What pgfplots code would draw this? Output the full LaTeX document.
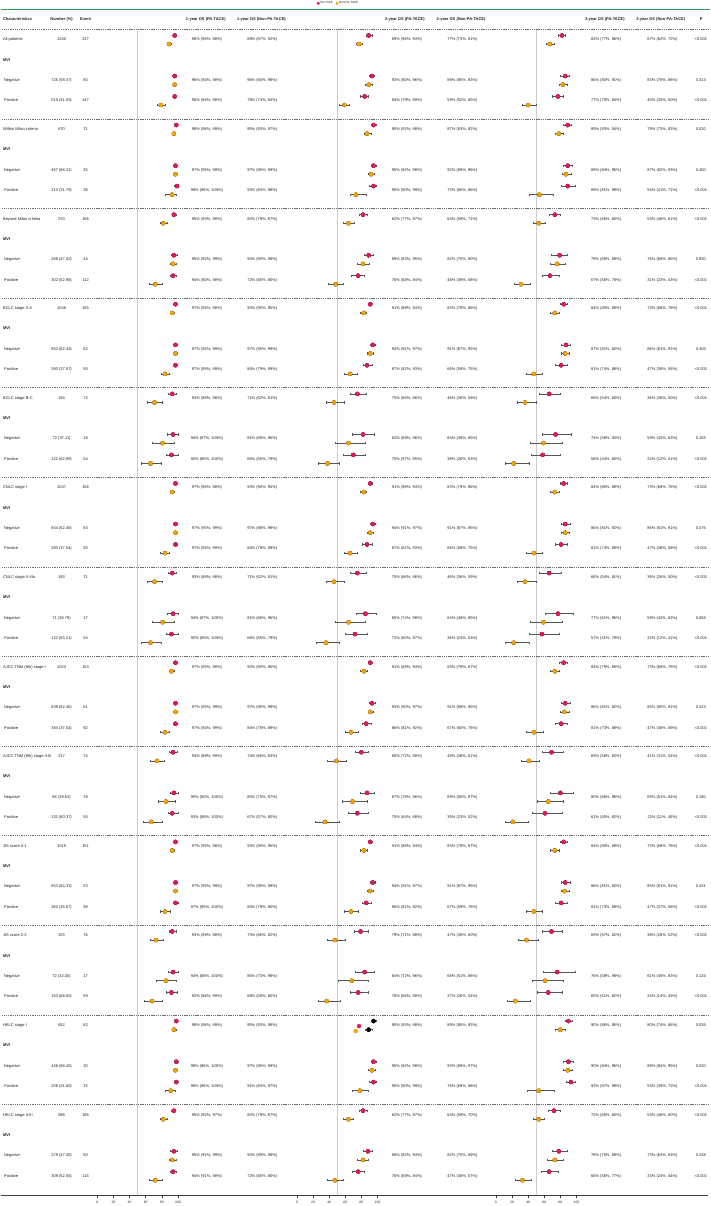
\documentclass[border=0pt]{standalone}
\usepackage{pgfplots}
\pgfplotsset{compat=1.18}
\usepackage{pgfplotstable}
\usepackage{fontspec}
\setmainfont{Liberation Sans}
\definecolor{pared}{RGB}{232,22,90}
\definecolor{nporange}{RGB}{246,164,0}
\definecolor{ebar}{RGB}{85,85,85}
\definecolor{refgray}{RGB}{205,205,205}
\definecolor{topgreen}{RGB}{38,160,90}
\definecolor{txt}{RGB}{30,30,30}
\definecolor{sepc}{RGB}{110,110,110}

\newcommand\ci[3]{#1\%~(#2\%,~#3\%)}
\newcommand\grp[5]{\node[t,anchor=west] at (axis cs:2.3,-#1) {#2};\node[t] at (axis cs:61,-#1) {#3};\node[t] at (axis cs:85,-#1) {#4};\node[t] at (axis cs:700.3,-#1) {#5};}
\newcommand\subrow[5]{\node[t,anchor=west] at (axis cs:3.3,-#1) {#2};\node[t] at (axis cs:61,-#1) {#3};\node[t] at (axis cs:85,-#1) {#4};\node[t] at (axis cs:700.3,-#1) {#5};}
\newcommand\mvi[1]{\node[h,anchor=west] at (axis cs:2.3,-#1) {MVI};}
\newcommand\ost[7]{\node[t] at (axis cs:206.3,-#1) {#2};\node[t] at (axis cs:261.7,-#1) {#3};\node[t] at (axis cs:406.3,-#1) {#4};\node[t] at (axis cs:461.8,-#1) {#5};\node[t] at (axis cs:605.5,-#1) {#6};\node[t] at (axis cs:661.8,-#1) {#7};}
\newcommand\sepl[1]{\draw[sepc, line width=0.5pt, dash pattern=on 1.3pt off 0.9pt] (axis cs:1,-#1) -- (axis cs:708,-#1);}

% y = row position (px from top); PA-TACE, Non-PA-TACE with 95% CI
\pgfplotstableread{
y pa palo pahi np nplo nphi
39.8 96 95 98 89 87 92
80.4 96 94 98 96 94 98
100.8 96 94 98 79 74 84
129.4 98 96 99 95 93 97
170.0 97 95 99 97 95 99
190.4 99 96 100 93 84 98
219.0 95 93 98 82 78 87
259.6 95 92 99 94 90 98
280.0 94 90 98 72 65 80
308.6 97 95 98 93 90 95
349.2 97 95 99 97 95 99
369.6 97 95 99 84 79 89
398.2 93 88 98 71 62 81
438.8 94 87 100 81 68 96
459.2 92 85 100 66 55 79
487.8 97 95 98 93 90 95
528.4 97 95 99 97 96 99
548.8 97 95 99 84 78 89
577.4 93 88 98 71 62 81
618.0 94 87 100 81 68 96
638.4 92 85 100 66 55 79
667.0 97 95 98 92 90 95
707.6 97 95 99 97 95 99
728.0 97 94 99 84 78 89
756.6 94 89 99 74 66 83
797.2 95 90 100 85 75 97
817.6 93 88 100 67 57 80
846.2 97 95 98 93 90 95
886.8 97 95 99 97 95 99
907.2 97 95 100 84 78 90
935.8 93 89 98 73 66 82
976.4 94 88 100 85 73 98
996.8 92 86 99 68 58 80
1025.4 98 96 99 95 93 98
1066.0 98 96 100 97 95 99
1086.4 98 96 100 91 84 97
1115.0 95 92 97 82 78 87
1155.6 95 91 99 93 89 98
1176.0 94 91 98 72 65 80
}\tabA

\pgfplotstableread{
y pa palo pahi np nplo nphi
39.8 89 86 93 77 73 81
80.4 93 90 96 89 85 93
100.8 84 79 89 59 52 65
129.4 95 92 98 87 83 92
170.0 95 92 98 92 89 96
190.4 95 90 99 73 66 86
219.0 82 77 87 64 58 71
259.6 89 83 95 82 75 90
280.0 76 68 84 48 39 58
308.6 91 89 94 83 79 86
349.2 94 91 97 91 87 95
369.6 87 82 93 66 59 75
398.2 75 66 86 46 36 59
438.8 82 69 96 64 48 85
459.2 70 57 85 38 26 53
487.8 91 88 94 83 79 86
528.4 94 91 97 91 87 95
548.8 87 81 93 66 59 75
577.4 75 66 86 46 36 59
618.0 85 74 98 64 48 85
638.4 72 60 87 36 24 53
667.0 91 88 94 83 79 87
707.6 93 90 97 91 88 95
728.0 86 81 92 67 60 76
756.6 80 72 88 49 38 61
797.2 87 78 96 69 56 87
817.6 75 64 88 35 23 52
846.2 91 88 94 83 79 87
886.8 94 91 97 91 87 95
907.2 86 81 92 67 59 76
935.8 79 71 88 47 38 60
976.4 84 72 96 68 51 88
996.8 76 66 88 37 26 54
1066.0 95 92 98 93 89 97
1086.4 95 90 99 78 69 88
1115.0 82 77 87 64 58 70
1155.6 88 82 94 82 75 89
1176.0 76 69 84 47 38 57
}\tabB

% HKLC stage I, 2-year row as drawn in the reference
\pgfplotstableread{
y pa palo pahi np nplo nphi
1025.4 95 93 98 89 85 93
}\tabBk

\pgfplotstableread{
y pa palo pahi np nplo nphi
39.8 82 77 86 67 62 72
80.4 86 80 91 83 78 88
100.8 77 70 84 40 33 50
129.4 89 83 94 78 73 83
170.0 89 84 95 87 82 93
190.4 89 81 99 54 41 71
219.0 73 66 80 53 46 61
259.6 79 69 89 76 68 86
280.0 67 58 78 31 23 43
308.6 84 80 89 73 68 78
349.2 87 81 92 86 81 91
369.6 81 74 88 47 38 58
398.2 66 54 80 36 26 50
438.8 74 58 93 59 42 82
459.2 58 44 80 22 12 41
487.8 84 80 89 73 68 78
528.4 86 81 92 86 81 91
548.8 81 74 89 47 38 58
577.4 66 54 81 36 26 50
618.0 77 61 96 59 42 82
638.4 57 41 79 22 12 41
667.0 84 79 88 73 68 78
707.6 86 81 92 85 80 91
728.0 81 73 88 47 38 59
756.6 69 58 83 41 31 54
797.2 80 68 96 65 51 84
817.6 61 45 82 21 11 40
846.2 84 80 89 73 68 78
886.8 86 81 92 85 81 91
907.2 81 73 89 47 37 58
935.8 69 57 82 38 28 52
976.4 76 59 98 61 45 83
996.8 65 51 82 24 14 43
1025.4 90 86 95 80 74 86
1066.0 90 84 96 89 84 95
1086.4 93 87 99 53 39 72
1115.0 72 65 80 53 46 60
1155.6 78 70 89 73 64 83
1176.0 66 56 77 33 24 44
}\tabC

\pgfplotsset{
  panelgeom/.style={scale only axis, width=80.6pt, height=1195.7pt, anchor=south west,
    xmin=0, xmax=100, ymin=-1195.7, ymax=0, clip=false},
  panel/.style={panelgeom,
    axis y line=none, axis x line*=bottom, x axis line style={draw=none},
    xtick={0,20,40,60,80,100}, tick align=outside, major tick length=2.5pt,
    xtick style={line width=0.5pt, draw=black!80},
    xticklabel style={font=\fontsize{3.4}{4}\selectfont, text=black!85, inner sep=0pt, yshift=-3pt},
    /pgf/number format/assume math mode=true},
  paneltop/.style={panelgeom, hide axis},
  ebars/.style={only marks, mark=none,
    error bars/.cd, x dir=both, x explicit, error mark=none,
    error bar style={line width=0.45pt, draw=ebar}},
  caps/.style={only marks, color=ebar, mark=|, mark size=1.1pt, mark options={line width=0.45pt, draw=ebar}},
  dots/.style={only marks, color=#1, mark=*, mark size=2.1pt, mark options={draw=#1, fill=#1, line width=0.1pt}},
}
\newcommand\panelbars[1]{%
  \addplot[ebars] table[x=pa, y expr=-\thisrow{y}+4.3, x error plus expr=\thisrow{pahi}-\thisrow{pa}, x error minus expr=\thisrow{pa}-\thisrow{palo}] {#1};
  \addplot[ebars] table[x=np, y expr=-\thisrow{y}-4.3, x error plus expr=\thisrow{nphi}-\thisrow{np}, x error minus expr=\thisrow{np}-\thisrow{nplo}] {#1};
  \addplot[caps] table[x=palo, y expr=-\thisrow{y}+4.3] {#1};
  \addplot[caps] table[x=pahi, y expr=-\thisrow{y}+4.3] {#1};
  \addplot[caps] table[x=nplo, y expr=-\thisrow{y}-4.3] {#1};
  \addplot[caps] table[x=nphi, y expr=-\thisrow{y}-4.3] {#1};
}
\newcommand\paneldots[1]{%
  \addplot[dots=pared] table[x=pa, y expr=-\thisrow{y}+4.3] {#1};
  \addplot[dots=nporange] table[x=np, y expr=-\thisrow{y}-4.3] {#1};
}

\begin{document}
\begin{tikzpicture}[
  t/.style={inner sep=0pt, font=\fontsize{4}{4.8}\selectfont, text=txt, text height=2.9pt, text depth=0.8pt},
  h/.style={inner sep=0pt, font=\fontsize{4}{4.8}\selectfont\bfseries, text=txt, text height=2.9pt, text depth=0.8pt}]
\begin{axis}[at={(0pt,0pt)}, anchor=south west, scale only axis, width=709pt, height=1206pt,
  xmin=0, xmax=709, ymin=-1206, ymax=0, hide axis, clip=false,
  legend style={at={(0.446,0.99726)}, anchor=west, draw=none, fill=none, inner sep=0pt, outer sep=0pt,
    legend columns=2, font=\fontsize{3}{3.6}\selectfont, text=txt,
    /tikz/every even column/.append style={column sep=2pt}, nodes={inner sep=0.6pt}},
  legend image code/.code={\draw[#1] plot coordinates {(1.5pt,0pt)};}]
\addlegendimage{mark=*, mark size=1.5pt, draw=none, mark options={fill=pared, draw=pared, line width=0.1pt}}
\addlegendentry{PA-TACE}
\addlegendimage{mark=*, mark size=1.5pt, draw=none, mark options={fill=nporange, draw=nporange, line width=0.1pt}}
\addlegendentry{Non-PA-TACE}
\path (axis cs:0,0) rectangle (axis cs:709,-1206);
\draw[topgreen, line width=1.2pt] (axis cs:0,-9.3) -- (axis cs:709,-9.3);
% reference lines at 50
\foreach \xx in {137.0,336.6,535.7} {\edef\tmp{\noexpand\draw[refgray, line width=0.8pt] (axis cs:\xx,-29.3) -- (axis cs:\xx,-1195.7);}\tmp}
\draw[black!75, line width=0.5pt] (axis cs:0,-1195.7) -- (axis cs:707,-1195.7);
% header
\node[h,anchor=west] at (axis cs:2.3,-19.3) {Characteristics};
\node[h] at (axis cs:61,-19.3) {Number (\%)};
\node[h] at (axis cs:85,-19.3) {Event};
\node[h] at (axis cs:205.2,-19.3) {1-year OS (PA-TACE)};
\node[h] at (axis cs:260.8,-19.3) {1-year OS (Non-PA-TACE)};
\node[h] at (axis cs:404.3,-19.3) {2-year OS (PA-TACE)};
\node[h] at (axis cs:460.5,-19.3) {2-year OS (Non-PA-TACE)};
\node[h] at (axis cs:604.3,-19.3) {3-year OS (PA-TACE)};
\node[h] at (axis cs:660.2,-19.3) {3-year OS (Non-PA-TACE)};
\node[h] at (axis cs:700.7,-19.3) {P};
\sepl{29.3}
% group 1
\grp{39.8}{All patients}{1240}{227}{<0.001}
\ost{39.8}{\ci{96}{95}{98}}{\ci{89}{87}{92}}{\ci{89}{86}{93}}{\ci{77}{73}{81}}{\ci{82}{77}{86}}{\ci{67}{62}{72}}
\mvi{60.1}
\subrow{80.4}{Negative}{725 (58.47)}{80}{0.313}
\ost{80.4}{\ci{96}{94}{98}}{\ci{96}{94}{98}}{\ci{93}{90}{96}}{\ci{89}{85}{93}}{\ci{86}{80}{91}}{\ci{83}{78}{88}}
\subrow{100.8}{Positive}{515 (41.53)}{147}{<0.001}
\ost{100.8}{\ci{96}{94}{98}}{\ci{79}{74}{84}}{\ci{84}{79}{89}}{\ci{59}{52}{65}}{\ci{77}{70}{84}}{\ci{40}{33}{50}}
\sepl{118.9}
% group 2
\grp{129.4}{Within Milan criteria}{670}{71}{0.020}
\ost{129.4}{\ci{98}{96}{99}}{\ci{95}{93}{97}}{\ci{95}{92}{98}}{\ci{87}{83}{92}}{\ci{89}{83}{94}}{\ci{78}{73}{83}}
\mvi{149.7}
\subrow{170.0}{Negative}{457 (68.21)}{35}{0.400}
\ost{170.0}{\ci{97}{95}{99}}{\ci{97}{95}{99}}{\ci{95}{92}{98}}{\ci{92}{89}{96}}{\ci{89}{84}{95}}{\ci{87}{82}{93}}
\subrow{190.4}{Positive}{213 (31.79)}{36}{<0.001}
\ost{190.4}{\ci{99}{96}{100}}{\ci{93}{84}{98}}{\ci{95}{90}{99}}{\ci{73}{66}{86}}{\ci{89}{81}{99}}{\ci{54}{41}{71}}
\sepl{208.5}
% group 3
\grp{219.0}{Beyond Milan criteria}{570}{156}{<0.001}
\ost{219.0}{\ci{95}{93}{98}}{\ci{82}{78}{87}}{\ci{82}{77}{87}}{\ci{64}{58}{71}}{\ci{73}{66}{80}}{\ci{53}{46}{61}}
\mvi{239.3}
\subrow{259.6}{Negative}{268 (47.02)}{44}{0.930}
\ost{259.6}{\ci{95}{92}{99}}{\ci{94}{90}{98}}{\ci{89}{83}{95}}{\ci{82}{75}{90}}{\ci{79}{69}{89}}{\ci{76}{68}{86}}
\subrow{280.0}{Positive}{302 (52.98)}{112}{<0.001}
\ost{280.0}{\ci{94}{90}{98}}{\ci{72}{65}{80}}{\ci{76}{68}{84}}{\ci{48}{39}{58}}{\ci{67}{58}{78}}{\ci{31}{23}{43}}
\sepl{298.1}
% group 4
\grp{308.6}{BCLC stage 0-A}{1046}{155}{<0.001}
\ost{308.6}{\ci{97}{95}{98}}{\ci{93}{90}{95}}{\ci{91}{89}{94}}{\ci{83}{79}{86}}{\ci{84}{80}{89}}{\ci{73}{68}{78}}
\mvi{328.9}
\subrow{349.2}{Negative}{653 (62.43)}{62}{0.405}
\ost{349.2}{\ci{97}{95}{99}}{\ci{97}{95}{99}}{\ci{94}{91}{97}}{\ci{91}{87}{95}}{\ci{87}{81}{92}}{\ci{86}{81}{91}}
\subrow{369.6}{Positive}{393 (37.57)}{93}{<0.001}
\ost{369.6}{\ci{97}{95}{99}}{\ci{84}{79}{89}}{\ci{87}{82}{93}}{\ci{66}{59}{75}}{\ci{81}{74}{88}}{\ci{47}{38}{58}}
\sepl{387.7}
% group 5
\grp{398.2}{BCLC stage B-C}{194}{72}{<0.001}
\ost{398.2}{\ci{93}{88}{98}}{\ci{71}{62}{81}}{\ci{75}{66}{86}}{\ci{46}{36}{59}}{\ci{66}{54}{80}}{\ci{36}{26}{50}}
\mvi{418.5}
\subrow{438.8}{Negative}{72 (37.11)}{18}{0.155}
\ost{438.8}{\ci{94}{87}{100}}{\ci{81}{68}{96}}{\ci{82}{69}{96}}{\ci{64}{48}{85}}{\ci{74}{58}{93}}{\ci{59}{42}{82}}
\subrow{459.2}{Positive}{122 (62.89)}{54}{<0.001}
\ost{459.2}{\ci{92}{85}{100}}{\ci{66}{55}{79}}{\ci{70}{57}{85}}{\ci{38}{26}{53}}{\ci{58}{44}{80}}{\ci{22}{12}{41}}
\sepl{477.3}
% group 6
\grp{487.8}{CNLC stage I}{1047}{156}{<0.001}
\ost{487.8}{\ci{97}{95}{98}}{\ci{93}{90}{95}}{\ci{91}{88}{94}}{\ci{83}{79}{86}}{\ci{84}{80}{89}}{\ci{73}{68}{78}}
\mvi{508.1}
\subrow{528.4}{Negative}{654 (62.46)}{63}{0.475}
\ost{528.4}{\ci{97}{95}{99}}{\ci{97}{96}{99}}{\ci{94}{91}{97}}{\ci{91}{87}{95}}{\ci{86}{81}{92}}{\ci{86}{81}{91}}
\subrow{548.8}{Positive}{393 (37.54)}{93}{<0.001}
\ost{548.8}{\ci{97}{95}{99}}{\ci{84}{78}{89}}{\ci{87}{81}{93}}{\ci{66}{59}{75}}{\ci{81}{74}{89}}{\ci{47}{38}{58}}
\sepl{566.9}
% group 7
\grp{577.4}{CNLC stage II-IIIa}{193}{71}{<0.001}
\ost{577.4}{\ci{93}{88}{98}}{\ci{71}{62}{81}}{\ci{75}{66}{86}}{\ci{46}{36}{59}}{\ci{66}{54}{81}}{\ci{36}{26}{50}}
\mvi{597.7}
\subrow{618.0}{Negative}{71 (36.79)}{17}{0.068}
\ost{618.0}{\ci{94}{87}{100}}{\ci{81}{68}{96}}{\ci{85}{74}{98}}{\ci{64}{48}{85}}{\ci{77}{61}{96}}{\ci{59}{42}{82}}
\subrow{638.4}{Positive}{122 (63.21)}{54}{<0.001}
\ost{638.4}{\ci{92}{85}{100}}{\ci{66}{55}{79}}{\ci{72}{60}{87}}{\ci{36}{24}{53}}{\ci{57}{41}{79}}{\ci{22}{12}{41}}
\sepl{656.5}
% group 8
\grp{667.0}{AJCC TNM (8th) stage I}{1023}{153}{<0.001}
\ost{667.0}{\ci{97}{95}{98}}{\ci{92}{90}{95}}{\ci{91}{88}{94}}{\ci{83}{79}{87}}{\ci{84}{79}{88}}{\ci{73}{68}{78}}
\mvi{687.3}
\subrow{707.6}{Negative}{639 (62.46)}{61}{0.423}
\ost{707.6}{\ci{97}{95}{99}}{\ci{97}{95}{99}}{\ci{93}{90}{97}}{\ci{91}{88}{95}}{\ci{86}{81}{92}}{\ci{85}{80}{91}}
\subrow{728.0}{Positive}{384 (37.54)}{92}{<0.001}
\ost{728.0}{\ci{97}{94}{99}}{\ci{84}{78}{89}}{\ci{86}{81}{92}}{\ci{67}{60}{76}}{\ci{81}{73}{88}}{\ci{47}{38}{59}}
\sepl{746.1}
% group 9
\grp{756.6}{AJCC TNM (8th) stage II-III}{217}{74}{<0.001}
\ost{756.6}{\ci{94}{89}{99}}{\ci{74}{66}{83}}{\ci{80}{72}{88}}{\ci{49}{38}{61}}{\ci{69}{58}{83}}{\ci{41}{31}{54}}
\mvi{776.9}
\subrow{797.2}{Negative}{86 (39.63)}{19}{0.180}
\ost{797.2}{\ci{95}{90}{100}}{\ci{85}{75}{97}}{\ci{87}{78}{96}}{\ci{69}{56}{87}}{\ci{80}{68}{96}}{\ci{65}{51}{84}}
\subrow{817.6}{Positive}{131 (60.37)}{55}{<0.001}
\ost{817.6}{\ci{93}{88}{100}}{\ci{67}{57}{80}}{\ci{75}{64}{88}}{\ci{35}{23}{52}}{\ci{61}{45}{82}}{\ci{21}{11}{40}}
\sepl{835.7}
% group 10
\grp{846.2}{JIS score 0-1}{1015}{151}{<0.001}
\ost{846.2}{\ci{97}{95}{98}}{\ci{93}{90}{95}}{\ci{91}{88}{94}}{\ci{83}{79}{87}}{\ci{84}{80}{89}}{\ci{73}{68}{78}}
\mvi{866.5}
\subrow{886.8}{Negative}{653 (64.33)}{53}{0.431}
\ost{886.8}{\ci{97}{95}{99}}{\ci{97}{95}{99}}{\ci{94}{91}{97}}{\ci{91}{87}{95}}{\ci{86}{81}{92}}{\ci{85}{81}{91}}
\subrow{907.2}{Positive}{362 (35.67)}{98}{<0.001}
\ost{907.2}{\ci{97}{95}{100}}{\ci{84}{78}{90}}{\ci{86}{81}{92}}{\ci{67}{59}{76}}{\ci{81}{73}{89}}{\ci{47}{37}{58}}
\sepl{925.3}
% group 11
\grp{935.8}{JIS score 2-3}{225}{76}{<0.001}
\ost{935.8}{\ci{93}{89}{98}}{\ci{73}{66}{82}}{\ci{79}{71}{88}}{\ci{47}{38}{60}}{\ci{69}{57}{82}}{\ci{38}{28}{52}}
\mvi{956.1}
\subrow{976.4}{Negative}{72 (32.00)}{17}{0.134}
\ost{976.4}{\ci{94}{88}{100}}{\ci{85}{73}{98}}{\ci{84}{72}{96}}{\ci{68}{51}{88}}{\ci{76}{59}{98}}{\ci{61}{45}{83}}
\subrow{996.8}{Positive}{153 (68.00)}{59}{<0.001}
\ost{996.8}{\ci{92}{86}{99}}{\ci{68}{58}{80}}{\ci{76}{66}{88}}{\ci{37}{26}{54}}{\ci{65}{51}{82}}{\ci{24}{14}{43}}
\sepl{1014.9}
% group 12
\grp{1025.4}{HKLC stage I}{652}{62}{0.035}
\ost{1025.4}{\ci{98}{96}{99}}{\ci{95}{93}{98}}{\ci{95}{93}{98}}{\ci{89}{85}{93}}{\ci{90}{86}{95}}{\ci{80}{74}{86}}
\mvi{1045.7}
\subrow{1066.0}{Negative}{446 (68.40)}{30}{0.030}
\ost{1066.0}{\ci{98}{96}{100}}{\ci{97}{95}{99}}{\ci{95}{92}{98}}{\ci{93}{89}{97}}{\ci{90}{84}{96}}{\ci{89}{84}{95}}
\subrow{1086.4}{Positive}{206 (31.60)}{32}{<0.001}
\ost{1086.4}{\ci{98}{96}{100}}{\ci{91}{84}{97}}{\ci{95}{90}{99}}{\ci{78}{69}{88}}{\ci{93}{87}{99}}{\ci{53}{39}{72}}
\sepl{1104.5}
% group 13
\grp{1115.0}{HKLC stage II-III}{588}{165}{<0.001}
\ost{1115.0}{\ci{95}{92}{97}}{\ci{82}{78}{87}}{\ci{82}{77}{87}}{\ci{64}{58}{70}}{\ci{72}{65}{80}}{\ci{53}{46}{60}}
\mvi{1135.3}
\subrow{1155.6}{Negative}{279 (47.45)}{50}{0.248}
\ost{1155.6}{\ci{95}{91}{99}}{\ci{93}{89}{98}}{\ci{88}{82}{94}}{\ci{82}{75}{89}}{\ci{78}{70}{89}}{\ci{73}{64}{83}}
\subrow{1176.0}{Positive}{309 (52.55)}{115}{<0.001}
\ost{1176.0}{\ci{94}{91}{98}}{\ci{72}{65}{80}}{\ci{76}{69}{84}}{\ci{47}{38}{57}}{\ci{66}{56}{77}}{\ci{33}{24}{44}}
\end{axis}

% 1-year panel: error bars, then dots on top
\begin{axis}[panel, at={(96.7pt,10.3pt)}]
\panelbars{\tabA}
\end{axis}
\begin{axis}[paneltop, at={(96.7pt,10.3pt)}]
\paneldots{\tabA}
\end{axis}
% 2-year panel
\begin{axis}[panel, at={(296.3pt,10.3pt)}]
\panelbars{\tabB}
\panelbars{\tabBk}
\end{axis}
\begin{axis}[paneltop, at={(296.3pt,10.3pt)}]
\paneldots{\tabB}
\addplot[dots=black] table[x=pa, y expr=-\thisrow{y}+4.3] {\tabBk};
\addplot[dots=black] table[x=np, y expr=-\thisrow{y}-4.3] {\tabBk};
\addplot[dots=pared] coordinates {(77,-1026.1)};
\addplot[dots=nporange] coordinates {(73,-1031.1)};
\end{axis}
% 3-year panel
\begin{axis}[panel, at={(495.3pt,10.3pt)}]
\panelbars{\tabC}
\end{axis}
\begin{axis}[paneltop, at={(495.3pt,10.3pt)}]
\paneldots{\tabC}
\end{axis}
\end{tikzpicture}
\end{document}
